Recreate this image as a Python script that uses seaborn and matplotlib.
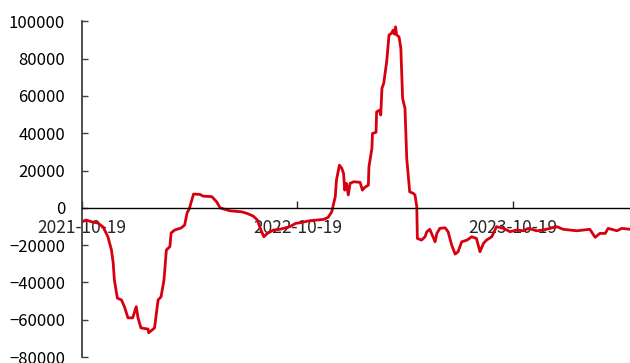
import pandas as pd
import matplotlib
matplotlib.use("Agg")
import matplotlib.pyplot as plt
import matplotlib.dates as mdates
import seaborn as sns

# Series
dates = [
    "2021-10-19", "2021-10-26", "2021-11-04", "2021-11-15", "2021-11-24", "2021-12-02",
    "2021-12-08", "2021-12-11", "2021-12-13", "2021-12-18", "2021-12-25", "2021-12-30",
    "2022-01-05", "2022-01-13", "2022-01-19", "2022-01-22", "2022-01-27", "2022-02-08",
    "2022-02-09", "2022-02-19", "2022-02-25", "2022-03-02", "2022-03-07", "2022-03-11",
    "2022-03-17", "2022-03-19", "2022-03-25", "2022-04-05", "2022-04-11", "2022-04-15",
    "2022-04-19", "2022-04-23", "2022-04-26", "2022-05-07", "2022-05-12", "2022-05-27",
    "2022-06-04", "2022-06-10", "2022-06-18", "2022-06-27", "2022-07-16", "2022-07-25",
    "2022-08-05", "2022-08-12", "2022-08-17", "2022-08-23", "2022-08-29", "2022-09-08",
    "2022-09-19", "2022-10-06", "2022-10-16", "2022-10-23", "2022-11-09", "2022-12-02",
    "2022-12-10", "2022-12-16", "2022-12-22", "2022-12-24", "2022-12-29", "2023-01-02",
    "2023-01-05", "2023-01-07", "2023-01-10", "2023-01-13", "2023-01-16", "2023-01-22",
    "2023-02-02", "2023-02-06", "2023-02-10", "2023-02-16", "2023-02-17", "2023-02-22",
    "2023-02-23", "2023-03-01", "2023-03-02", "2023-03-07", "2023-03-09", "2023-03-11",
    "2023-03-14", "2023-03-19", "2023-03-23", "2023-03-27", "2023-03-30", "2023-04-01",
    "2023-04-03", "2023-04-05", "2023-04-09", "2023-04-12", "2023-04-15", "2023-04-19",
    "2023-04-22", "2023-04-27", "2023-05-03", "2023-05-06", "2023-05-09", "2023-05-10",
    "2023-05-17", "2023-05-23", "2023-05-26", "2023-05-31", "2023-06-03", "2023-06-09",
    "2023-06-12", "2023-06-17", "2023-06-26", "2023-07-01", "2023-07-07", "2023-07-13",
    "2023-07-18", "2023-07-24", "2023-08-02", "2023-08-10", "2023-08-18", "2023-08-24",
    "2023-08-30", "2023-09-04", "2023-09-13", "2023-09-21", "2023-10-03", "2023-10-14",
    "2023-10-25", "2023-11-05", "2023-11-14", "2023-11-28", "2023-12-09", "2024-01-01",
    "2024-01-12", "2024-02-04", "2024-02-26", "2024-03-06", "2024-03-14", "2024-03-23",
    "2024-03-28", "2024-04-12", "2024-04-20", "2024-05-04",
]
values = [
    -7500, -6500, -7450, -8150, -10300, -15500,
    -22600, -29600, -38700, -48400, -49400, -53000,
    -59000, -59000, -53000, -59000, -64400, -65000,
    -67000, -64400, -49400, -47700, -38700, -22600,
    -20800, -13500, -11900, -10800, -9200, -2800,
    -300, 4200, 7400, 7200, 6300, 6000,
    3300, 0, -800, -1600, -2100, -2900,
    -4400, -6500, -11000, -15500, -13700, -11900,
    -11500, -10100, -8300, -8000, -6900, -6200,
    -5100, -2100, 6000, 14900, 22900, 21200,
    18500, 9500, 13100, 6900, 13100, 14000,
    13700, 9500, 11000, 12200, 22000, 31900,
    39900, 40500, 51500, 52400, 49800, 64100,
    66800, 78300, 92700, 93600, 95300, 93200,
    97100, 92700, 91700, 85500, 58700, 53400,
    26500, 8600, 7800, 6900, 600, -16400,
    -17300, -15500, -12800, -11500, -13700, -18200,
    -13700, -11000, -10700, -12800, -19900, -24800,
    -23500, -18200, -17300, -15500, -16400, -23500,
    -19000, -17300, -15500, -10100, -11000, -12800,
    -11900, -12300, -11000, -12300, -11900, -10100,
    -11500, -12300, -11500, -15800, -13700, -13700,
    -11000, -12300, -11000, -11500,
]
x_ticks = ["2021-10-19", "2022-10-19", "2023-10-19"]
y_ticks = [-80000, -60000, -40000, -20000, 0, 20000, 40000, 60000, 80000, 100000]

df = pd.DataFrame({"date": pd.to_datetime(dates), "value": values})

sns.set_style("ticks")
plt.rcParams["font.family"] = ["Noto Sans CJK SC", "DejaVu Sans"]

fig = plt.figure(figsize=(6.3, 3.63), dpi=100)
ax = fig.add_axes([0.130, 0.0165, 0.870, 0.9245])

sns.lineplot(data=df, x="date", y="value", color="#D7000F", linewidth=2.0, ax=ax)

ax.set_xlim(pd.Timestamp(dates[0]), pd.Timestamp(dates[-1]))
ax.set_ylim(-80000, 100000)
ax.set_yticks(y_ticks)
ax.set_xticks(pd.to_datetime(x_ticks))
ax.xaxis.set_major_formatter(mdates.DateFormatter("%Y-%m-%d"))

ax.spines["top"].set_visible(False)
ax.spines["right"].set_visible(False)
ax.spines["bottom"].set_position(("data", 0))
ax.spines["bottom"].set_color("black")
ax.spines["bottom"].set_linewidth(1.0)
ax.spines["left"].set_color("#404040")
ax.spines["left"].set_linewidth(1.3)

ax.tick_params(axis="y", direction="in", length=4, width=1.0, pad=12, labelsize=12, colors="#404040", labelcolor="black")
ax.tick_params(axis="x", direction="in", length=5, width=1.0, pad=8, labelsize=12.5)
ax.set_xlabel("")
ax.set_ylabel("")

fig.savefig("out.png", dpi=100)
